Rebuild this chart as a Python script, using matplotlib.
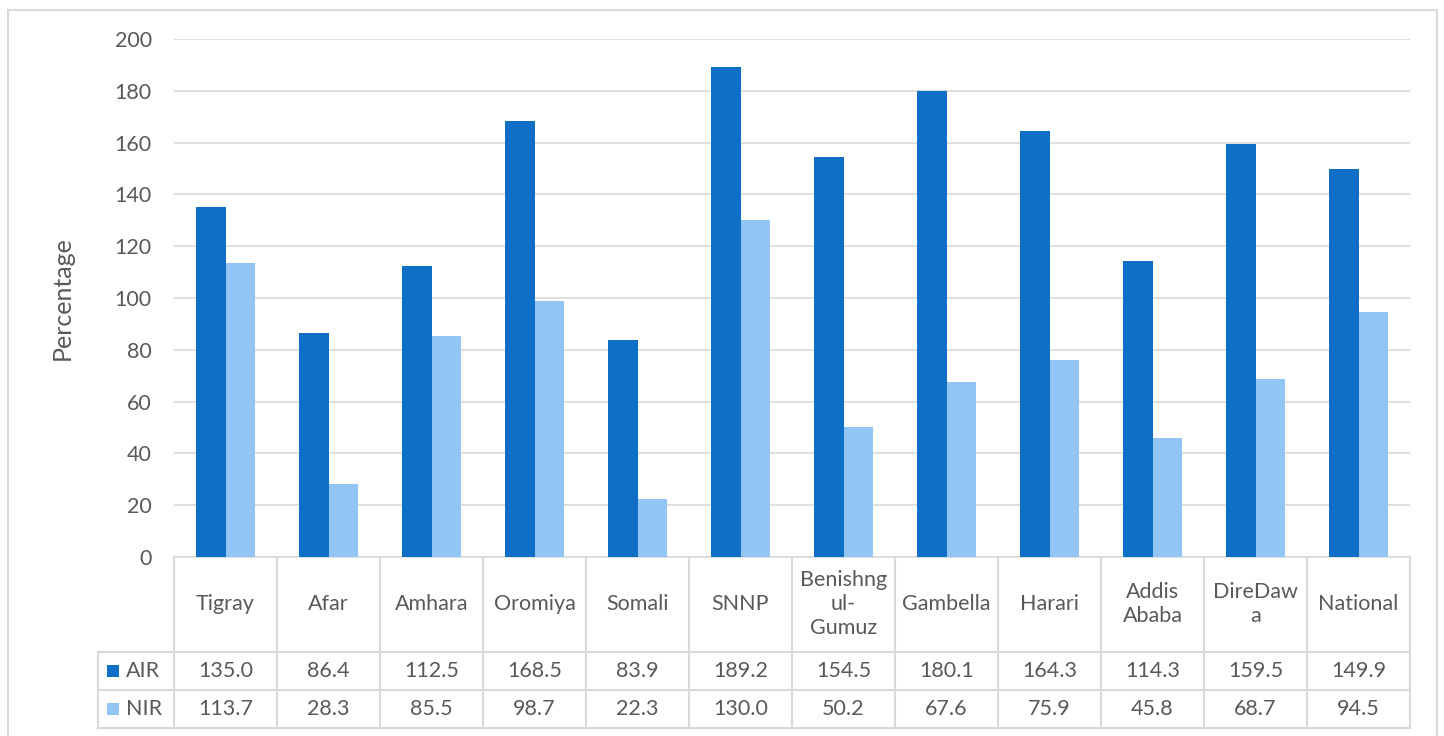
import matplotlib.pyplot as plt
import numpy as np

plt.rcParams['font.family'] = ['Lato', 'DejaVu Sans']

regions = ['Tigray', 'Afar', 'Amhara', 'Oromiya', 'Somali', 'SNNP',
           'Benishng\nul-\nGumuz', 'Gambella', 'Harari', 'Addis\nAbaba',
           'DireDaw\na', 'National']
air = [135.0, 86.4, 112.5, 168.5, 83.9, 189.2, 154.5, 180.1, 164.3, 114.3, 159.5, 149.9]
nir = [113.7, 28.3, 85.5, 98.7, 22.3, 130.0, 50.2, 67.6, 75.9, 45.8, 68.7, 94.5]
series = [('AIR', air, '#0F6FC6'), ('NIR', nir, '#92C5F4')]

W, H = 1444, 736
txt = '#595959'
line = '#D9D9D9'
fs = 15.5

fig = plt.figure(figsize=(W / 100, H / 100), dpi=100)

# outer chart border (bottom edge runs off the canvas)
fig.patches.append(plt.Rectangle((8 / W, -10 / H), (1437 - 8) / W, (736 + 10 - 10) / H,
                                 transform=fig.transFigure, fill=False,
                                 edgecolor=line, linewidth=1.5))

def px_axes(x0, y0, x1, y1):
    return fig.add_axes([x0 / W, 1 - y1 / H, (x1 - x0) / W, (y1 - y0) / H])

ax = px_axes(174, 39, 1410, 557)
x = np.arange(len(regions))
bw = 0.29
for k, (name, vals, col) in enumerate(series):
    ax.bar(x + (k - 0.5) * bw, vals, width=bw, color=col, zorder=3)

ax.set_xlim(-0.5, len(regions) - 0.5)
ax.set_ylim(0, 200)
ax.set_yticks(range(0, 201, 20))
ax.yaxis.grid(True, color=line, linewidth=1.2, zorder=0)
ax.set_xticks([])
for s in ['top', 'left', 'right']:
    ax.spines[s].set_visible(False)
ax.spines['bottom'].set_color(line)
ax.spines['bottom'].set_linewidth(1.2)
ax.tick_params(axis='y', length=0, pad=16, labelsize=fs, labelcolor=txt)
ax.set_ylabel('Percentage', fontsize=18, color=txt, labelpad=29)

# data table below the bars
tab = px_axes(98, 557, 1410, 728)
lead = 76 / 103
tab.set_xlim(-0.5 - lead, len(regions) - 0.5)
tab.set_ylim(171, 0)
tab.axis('off')

hdr, r1, r2 = 95, 133, 171
for b in np.arange(-0.5, len(regions)):
    tab.plot([b, b], [0, r2], color=line, lw=1.5, clip_on=False)
tab.plot([-0.5 - lead] * 2, [hdr, r2], color=line, lw=1.5, clip_on=False)
for yy in (hdr, r1, r2):
    tab.plot([-0.5 - lead, len(regions) - 0.5], [yy, yy], color=line, lw=1.5, clip_on=False)

for i, r in enumerate(regions):
    tab.text(i, hdr / 2, r, ha='center', va='center', fontsize=fs, color=txt, linespacing=1.25)

for k, (name, vals, col) in enumerate(series):
    yc = (hdr + r1) / 2 if k == 0 else (r1 + r2) / 2
    tab.scatter([-0.5 - lead + 0.146], [yc], marker='s', s=72, color=col,
                linewidths=0, clip_on=False)
    tab.text(-0.5 - lead + 0.27, yc, name, ha='left', va='center', fontsize=fs, color=txt)
    for i, v in enumerate(vals):
        tab.text(i, yc, f'{v:.1f}', ha='center', va='center', fontsize=fs, color=txt)

fig.savefig('out.png', dpi=100)
